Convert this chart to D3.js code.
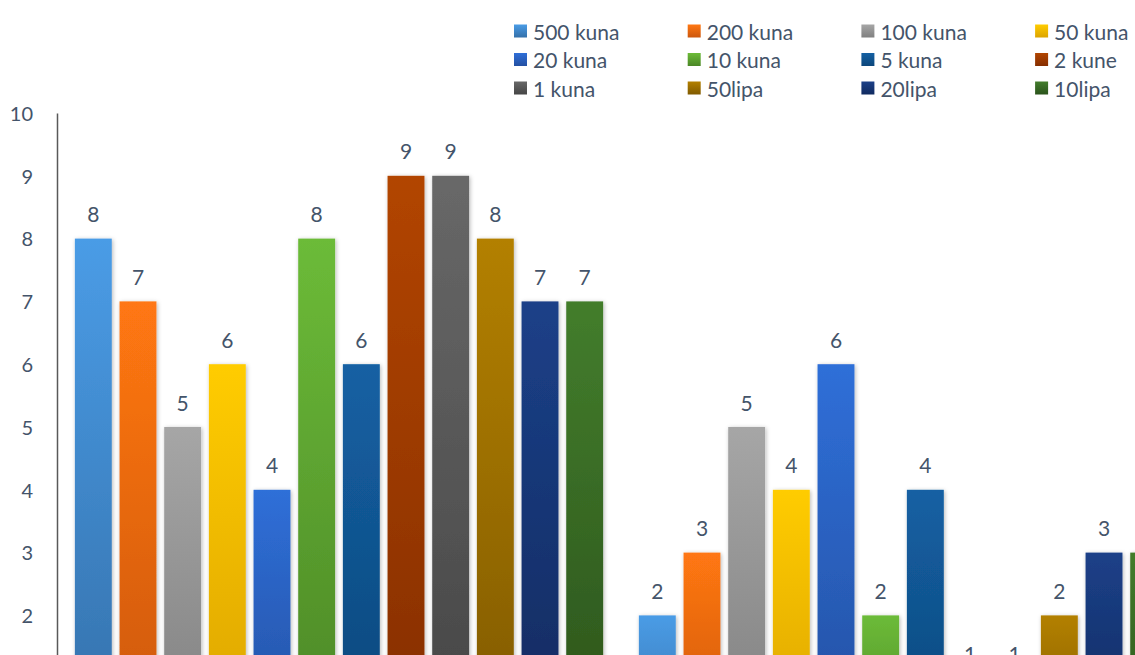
<!DOCTYPE html>
<html>
<head>
<meta charset="utf-8">
<script src="https://cdn.jsdelivr.net/npm/d3@7"></script>
<style>
  html, body { margin: 0; padding: 0; background: #ffffff; overflow: hidden; }
  svg { display: block; }
  text { font-family: Lato, "Open Sans", sans-serif; fill: #44546a; }
</style>
</head>
<body>
<svg id="chart" width="1135" height="655"></svg>
<script>
// Denominations (series) and the two survey groups (categories)
const series = ["500 kuna", "200 kuna", "100 kuna", "50 kuna", "20 kuna", "10 kuna",
                "5 kuna", "2 kune", "1 kuna", "50lipa", "20lipa", "10lipa"];
const categories = ["Grupa A", "Grupa B"];
const valuesA = [8, 7, 5, 6, 4, 8, 6, 9, 9, 8, 7, 7];
const valuesB = [2, 3, 5, 4, 6, 2, 4, 1, 1, 2, 3, 3];
const yTicks = [0, 1, 2, 3, 4, 5, 6, 7, 8, 9, 10];

// Top / bottom colours of each denomination's vertical gradient
const colorTop = ["#4a9ce6", "#ff7712", "#a6a6a6", "#ffcc00", "#2f6fd8", "#6cbb38",
                  "#1460a3", "#b24500", "#686868", "#b38000", "#1c4088", "#437d2c"];
const colorBottom = ["#3470aa", "#cc570d", "#808080", "#dca400", "#2450a2", "#4b8726",
                     "#0d477b", "#852e00", "#454545", "#805a00", "#102a5f", "#2b531b"];

const valuesByCategory = [valuesA, valuesB];

const svg = d3.select("#chart");
const defs = svg.append("defs");

// Soft drop shadow under each column
const shadow = defs.append("filter").attr("id", "barShadow")
  .attr("x", "-30%").attr("y", "-10%").attr("width", "160%").attr("height", "130%");
shadow.append("feDropShadow")
  .attr("dx", 1).attr("dy", 1).attr("stdDeviation", 2.2)
  .attr("flood-color", "#000").attr("flood-opacity", 0.28);

series.forEach((s, i) => {
  const g = defs.append("linearGradient").attr("id", "grad" + i)
    .attr("x1", 0).attr("y1", 0).attr("x2", 0).attr("y2", 1);
  g.append("stop").attr("offset", "0%").attr("stop-color", colorTop[i]);
  g.append("stop").attr("offset", "100%").attr("stop-color", colorBottom[i]);
});

// Plot area: the value axis runs from 0 (below the visible window) up to 10
const plotLeft = 57;
const groupWidth = 564;
const y = d3.scaleLinear().domain([0, 10]).range([741, 113]);

const x0 = d3.scaleBand()
  .domain(categories)
  .range([plotLeft, plotLeft + groupWidth * categories.length])
  .paddingInner(0).paddingOuter(0);

const x1 = d3.scaleBand()
  .domain(series)
  .range([0, x0.bandwidth()])
  .paddingInner(0.174).paddingOuter(0.40);

// Columns
const groups = svg.append("g").selectAll("g")
  .data(categories)
  .join("g")
  .attr("transform", d => `translate(${x0(d)},0)`);

groups.each(function (cat, ci) {
  const vals = valuesByCategory[ci];
  const data = series.map((s, i) => ({ s, i, v: vals[i] }));
  const g = d3.select(this);

  g.selectAll("rect")
    .data(data)
    .join("rect")
    .attr("x", d => x1(d.s))
    .attr("y", d => y(d.v))
    .attr("width", x1.bandwidth())
    .attr("height", d => y(0) - y(d.v))
    .attr("fill", d => `url(#grad${d.i})`)
    .attr("filter", "url(#barShadow)");

  g.selectAll("text.val")
    .data(data)
    .join("text")
    .attr("class", "val")
    .attr("x", d => x1(d.s) + x1.bandwidth() / 2)
    .attr("y", d => y(d.v) - 25)
    .attr("text-anchor", "middle")
    .attr("dominant-baseline", "central")
    .style("font-size", "21px")
    .text(d => d.v);
});

// Value axis
const yAxis = d3.axisLeft(y)
  .tickValues(yTicks)
  .tickSize(0)
  .tickPadding(24)
  .tickFormat(d3.format("d"));

const axisG = svg.append("g")
  .attr("transform", `translate(${plotLeft},0)`)
  .call(yAxis);
axisG.select(".domain").attr("stroke", "#595959").attr("stroke-width", 1.5);
axisG.selectAll(".tick text")
  .style("font-size", "20px")
  .style("font-family", "Lato, 'Open Sans', sans-serif")
  .attr("fill", "#44546a")
  .attr("dy", "0.36em");

// Legend: 4 columns x 3 rows
const legendCols = 4;
const legX = d3.scaleLinear().domain([0, 1]).range([514, 687.7]);
const legY = d3.scaleLinear().domain([0, 1]).range([31, 59.5]);

const leg = svg.append("g").selectAll("g")
  .data(series)
  .join("g")
  .attr("transform", (d, i) => `translate(${legX(i % legendCols)},${legY(Math.floor(i / legendCols))})`);

leg.append("rect")
  .attr("x", 0).attr("y", -6.5)
  .attr("width", 13).attr("height", 13)
  .attr("fill", (d, i) => `url(#grad${i})`);

leg.append("text")
  .attr("x", 19)
  .attr("y", 0)
  .attr("dominant-baseline", "central")
  .style("font-size", "21px")
  .text(d => d);
</script>
</body>
</html>
